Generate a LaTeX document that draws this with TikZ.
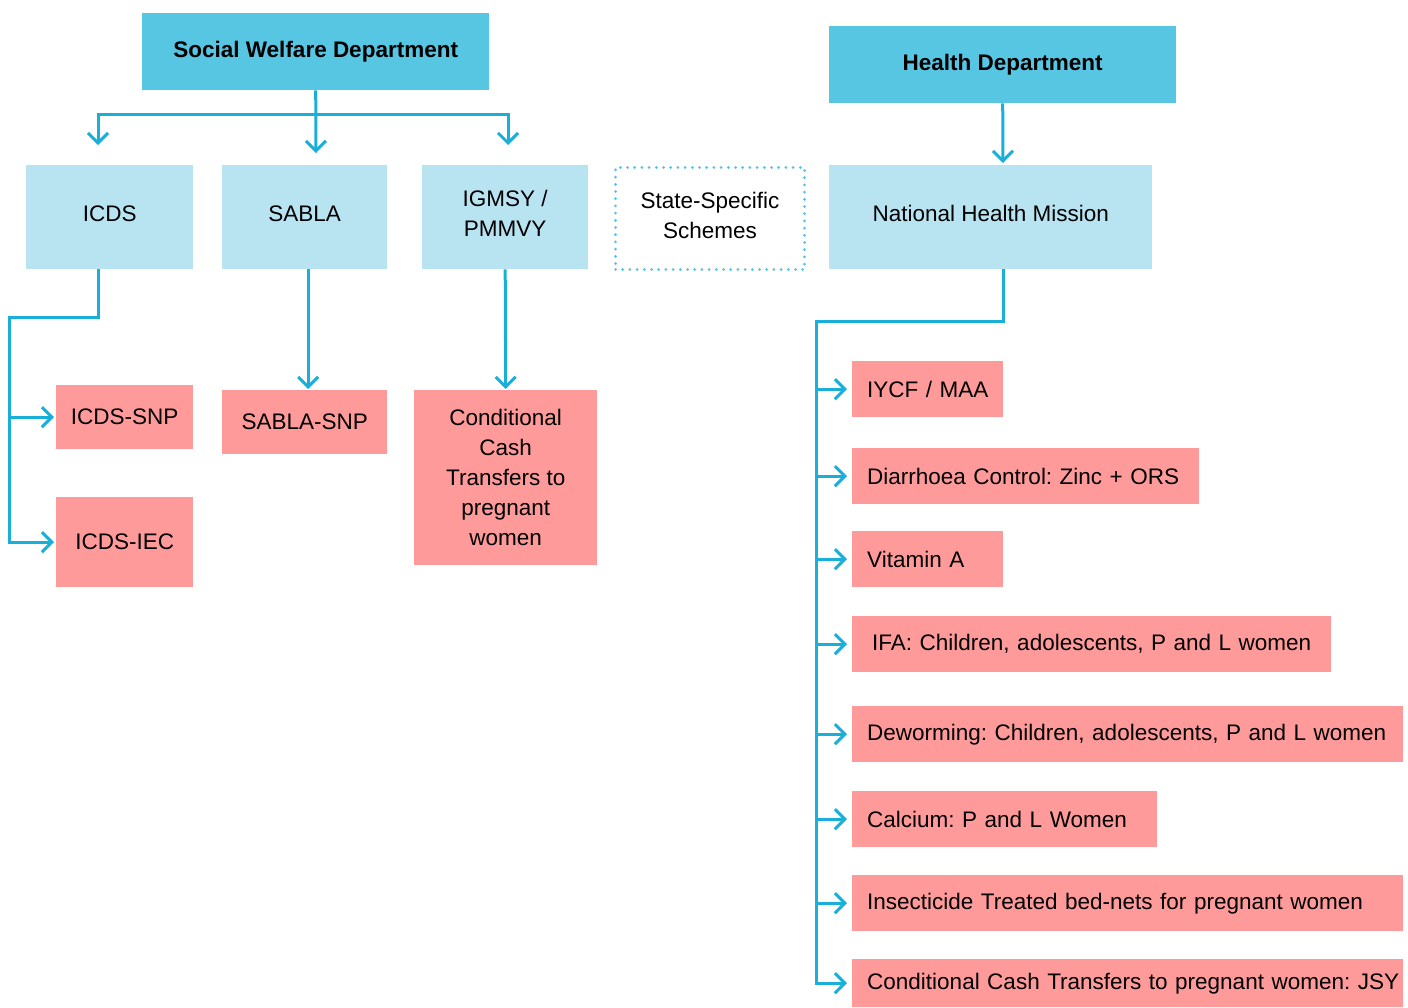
\documentclass[tikz,border=0pt]{standalone}
\usepackage{fontspec}
\setmainfont{Liberation Sans}
\usetikzlibrary{arrows.meta}
\definecolor{hdr}{HTML}{56C6E3}
\definecolor{lb}{HTML}{B8E4F2}
\definecolor{pk}{HTML}{FF9A9A}
\definecolor{lnc}{HTML}{1AAFD9}
\definecolor{dotc}{HTML}{4FC4E6}
\frenchspacing
\begin{document}
\begin{tikzpicture}[x=1pt,y=-1pt,
  box/.style={anchor=north west, inner sep=0pt, align=center,
    font=\fontsize{22.5}{30}\selectfont},
  hdrbox/.style={box, fill=hdr, font=\fontsize{22.5}{30}\selectfont\bfseries},
  lbox/.style={box, fill=lb, text depth=8pt},
  pbox/.style={box, fill=pk},
  rbox/.style={anchor=north west, fill=pk, inner xsep=15pt, inner ysep=0pt,
    minimum height=56pt, align=left, text width=#1,
    font=\fontsize{22.5}{30}\selectfont},
  conn/.style={draw=lnc, line width=3pt},
  arr/.style={conn, -{Straight Barb[length=10pt,width=20pt]}},
]
\useasboundingbox (0,0) rectangle (1408,1007);

% top level
\node[hdrbox, minimum width=347pt, minimum height=77pt] (swd) at (142,13) {Social Welfare Department};
\node[hdrbox, minimum width=347pt, minimum height=77pt] (hd) at (829,26) {Health Department};

% second level
\node[lbox, minimum width=167pt, minimum height=104pt] (icds) at (26,165) {ICDS};
\node[lbox, minimum width=165pt, minimum height=104pt] (sabla) at (222,165) {SABLA};
\node[lbox, minimum width=166pt, minimum height=104pt] (igmsy) at (422,165) {IGMSY /\\PMMVY};
\node[box, draw=dotc, line width=3pt, dash pattern=on 0pt off 7.2pt, line cap=round,
      text depth=6pt, minimum width=189pt, minimum height=102pt] (ssp) at (614,166) {State-Specific\\Schemes};
\node[lbox, minimum width=323pt, minimum height=104pt] (nhm) at (829,165) {National Health Mission};

% left leaves
\node[pbox, minimum width=137pt, minimum height=64pt] (isnp) at (56,385) {ICDS-SNP};
\node[pbox, minimum width=137pt, minimum height=90pt] (iiec) at (56,497) {ICDS-IEC};
\node[pbox, minimum width=165pt, minimum height=64pt] (ssnp) at (222,390) {SABLA-SNP};
\node[pbox, minimum width=183pt, minimum height=175pt] (cct) at (414,390) {Conditional\\Cash\\Transfers to\\pregnant\\women};

% right leaves
\node[rbox=121pt] (iycf) at (852,361) {\mbox{IYCF / MAA}};
\node[rbox=317pt] (diar) at (852,448) {\mbox{Diarrhoea Control: Zinc + ORS}};
\node[rbox=121pt] (vita) at (852,531) {\mbox{Vitamin A}};
\node[rbox=449pt] (ifa) at (852,616) {\mbox{\hspace*{5pt}IFA: Children, adolescents, P and L women}};
\node[rbox=521pt] (dew) at (852,706) {\mbox{Deworming: Children, adolescents, P and L women}};
\node[rbox=275pt] (calc) at (852,791) {\mbox{Calcium: P and L Women}};
\node[rbox=521pt] (itn) at (852,875) {\mbox{Insecticide Treated bed-nets for pregnant women}};
\node[rbox=521pt, minimum height=48pt] (jsy) at (852,959) {\mbox{Conditional Cash Transfers to pregnant women: JSY}};

% connectors: social welfare
\coordinate (bus) at (316,114);
\coordinate (e1) at (98,145);
\coordinate (e2) at (316,153);
\coordinate (e3) at (508,145);
\draw[arr] (swd.south) -- (e2);
\draw[arr] (bus) -| (e1);
\draw[arr] (bus) -| (e3);

% health
\coordinate (h1) at (1003,163);
\draw[arr] (hd.south) -- (h1);

% ICDS branch
\coordinate (ic0) at (98,269);
\coordinate (ic1) at (9,317);
\draw[arr, shorten >=2pt] (ic0) |- (ic1) |- (iiec.west);
\draw[arr, shorten >=2pt] (isnp.west -| ic1) -- (isnp.west);

% SABLA, IGMSY
\draw[arr, shorten >=1pt] ([xshift=3.5pt]sabla.south) -- ([xshift=3.5pt]ssnp.north);
\draw[arr, shorten >=1pt] (igmsy.south) -- (cct.north);

% NHM branch
\coordinate (n0) at (1003,269);
\coordinate (trunk) at (816,321);
\draw[arr, shorten >=5pt] (n0) |- (trunk) |- (jsy.west);
\foreach \b in {iycf,diar,vita,ifa,dew,calc,itn}
  \draw[arr, shorten >=5pt] (\b.west -| trunk) -- (\b.west);
\end{tikzpicture}
\end{document}
